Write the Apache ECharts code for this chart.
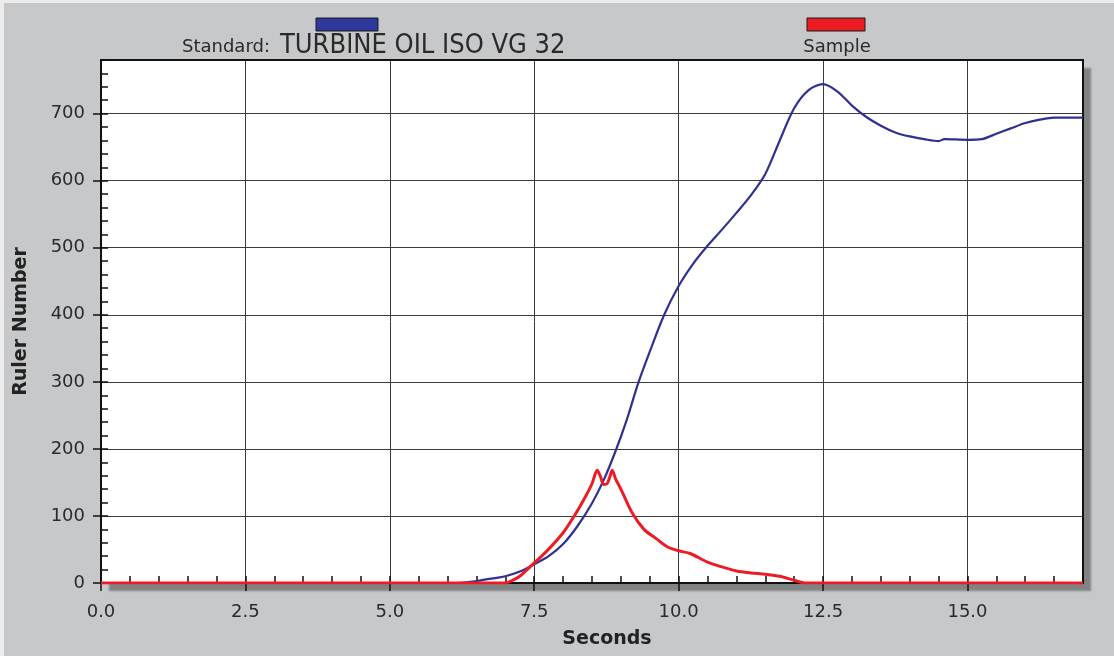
<!DOCTYPE html>
<html>
<head>
<meta charset="utf-8">
<script src="https://cdn.jsdelivr.net/npm/echarts@6/dist/echarts.min.js"></script>
<style>
html,body{margin:0;padding:0;background:#c7c8ca;}
#c{width:1114px;height:656px;}
</style>
</head>
<body>
<div id="c"></div>
<script>
// Data (seconds, ruler number)
var standardName = 'TURBINE OIL ISO VG 32';
var sampleName = 'Sample';
var standardX = [0, 6.2, 6.5, 6.8, 7.0, 7.25, 7.5, 7.75, 8.0, 8.25, 8.5, 8.7, 8.9, 9.1, 9.3, 9.5, 9.75, 10.0, 10.25, 10.5, 10.75, 11.0, 11.25, 11.5, 11.75, 12.0, 12.25, 12.5, 12.75, 13.0, 13.25, 13.5, 13.75, 14.0, 14.25, 14.5, 14.6, 15.0, 15.25, 15.5, 15.75, 16.0, 16.25, 16.5, 17.0];
var standardY = [0, 0, 3, 7, 10, 17, 28, 40, 58, 85, 119, 153, 195, 243, 298, 345, 400, 443, 476, 503, 527, 552, 578, 610, 660, 708, 735, 744, 733, 712, 695, 682, 672, 666, 662, 659, 662, 661, 662, 670, 678, 686, 691, 694, 694];
var sampleX = [0, 7.0, 7.1, 7.25, 7.5, 7.7, 8.0, 8.2, 8.4, 8.5, 8.59, 8.65, 8.7, 8.76, 8.8, 8.85, 8.91, 9.0, 9.2, 9.4, 9.6, 9.8, 10.0, 10.2, 10.5, 10.75, 11.0, 11.25, 11.5, 11.75, 12.0, 12.2, 17.0];
var sampleY = [0, 0, 3, 10, 30, 46, 75, 101, 131, 148, 168, 158, 147, 148, 156, 168, 155, 140, 104, 80, 67, 54, 48, 44, 31, 24, 18, 15, 13, 10, 4, 0, 0];
var xTicks = [0, 2.5, 5.0, 7.5, 10.0, 12.5, 15.0];
var yTicks = [0, 100, 200, 300, 400, 500, 600, 700];

function pairs(xs, ys) { return xs.map(function (x, i) { return [x, ys[i]]; }); }

var chart = echarts.init(document.getElementById('c'), null, {renderer: 'canvas'});
var FONT = 'DejaVu Sans';
var frameLine = {show: true, onZero: false, lineStyle: {color: '#111', width: 2}};
chart.setOption({
  backgroundColor: '#c7c8ca',
  animation: false,
  grid: {
    left: 101, right: 31, top: 60, bottom: 73,
    show: true, backgroundColor: '#ffffff', borderWidth: 0,
    shadowColor: 'rgba(0,0,0,0.35)', shadowBlur: 2, shadowOffsetX: 8, shadowOffsetY: 8
  },
  graphic: [
    {type: 'rect', shape: {x: 0, y: 0, width: 1114, height: 3}, style: {fill: '#ececec'}},
    {type: 'rect', shape: {x: 0, y: 0, width: 4, height: 656}, style: {fill: '#ececec'}},
    {type: 'rect', shape: {x: 316, y: 18, width: 62, height: 13}, style: {fill: '#2f389c', stroke: '#1a1a1a', lineWidth: 1}},
    {type: 'text', x: 182, y: 47, style: {text: 'Standard:', font: '18px "DejaVu Sans"', fill: '#2a2a2a', verticalAlign: 'middle', align: 'left'}},
    {type: 'text', x: 280, y: 46, style: {text: standardName, font: '27px "DejaVu Sans Condensed", "DejaVu Sans"', fill: '#2a2a2a', verticalAlign: 'middle', align: 'left'}},
    {type: 'rect', shape: {x: 807, y: 18, width: 58, height: 13}, style: {fill: '#ec1c24', stroke: '#1a1a1a', lineWidth: 1}},
    {type: 'text', x: 837, y: 47, style: {text: sampleName, font: '18px "DejaVu Sans"', fill: '#2a2a2a', verticalAlign: 'middle', align: 'center'}}
  ],
  xAxis: [
    {
      type: 'value', min: 0, max: 17, interval: 2.5, position: 'bottom',
      name: 'Seconds', nameLocation: 'middle', nameGap: 47,
      nameTextStyle: {fontFamily: FONT, fontWeight: 'bold', fontSize: 19, color: '#222', padding: [0, 0, 0, 30]},
      axisLine: frameLine,
      axisTick: {show: true, inside: false, length: 8, customValues: xTicks, lineStyle: {color: '#111', width: 1.5}},
      axisLabel: {show: true, margin: 20, customValues: xTicks, fontFamily: FONT, fontSize: 18, color: '#2a2a2a',
        formatter: function (v) { return v.toFixed(1); }},
      splitLine: {show: true, lineStyle: {color: '#3a3a3a', width: 1}}
    },
    {
      type: 'value', min: 0, max: 17, interval: 0.5, position: 'bottom',
      axisLine: {show: false}, axisLabel: {show: false}, splitLine: {show: false},
      axisTick: {show: true, inside: true, length: 7, lineStyle: {color: '#111', width: 1.5}}
    },
    {
      type: 'value', min: 0, max: 17, position: 'top',
      axisLine: frameLine, axisLabel: {show: false}, axisTick: {show: false}, splitLine: {show: false}
    }
  ],
  yAxis: [
    {
      type: 'value', min: 0, max: 780, interval: 100, position: 'left',
      name: 'Ruler Number', nameLocation: 'middle', nameGap: 70,
      nameTextStyle: {fontFamily: FONT, fontWeight: 'bold', fontSize: 19, color: '#222'},
      axisLine: frameLine,
      axisTick: {show: true, inside: false, length: 8, customValues: yTicks, lineStyle: {color: '#111', width: 1.5}},
      axisLabel: {show: true, margin: 16, customValues: yTicks, fontFamily: FONT, fontSize: 18, color: '#2a2a2a'},
      splitLine: {show: true, lineStyle: {color: '#3a3a3a', width: 1}}
    },
    {
      type: 'value', min: 0, max: 780, interval: 20, position: 'left',
      axisLine: {show: false}, axisLabel: {show: false}, splitLine: {show: false},
      axisTick: {show: true, inside: true, length: 7, lineStyle: {color: '#111', width: 1.5}}
    },
    {
      type: 'value', min: 0, max: 780, position: 'right',
      axisLine: frameLine, axisLabel: {show: false}, axisTick: {show: false}, splitLine: {show: false}
    }
  ],
  series: [
    {
      name: standardName, type: 'line', xAxisIndex: 0, yAxisIndex: 0,
      data: pairs(standardX, standardY), smooth: 0.3, showSymbol: false,
      lineStyle: {color: '#2e3192', width: 2.2}, z: 3
    },
    {
      name: sampleName, type: 'line', xAxisIndex: 0, yAxisIndex: 0,
      data: pairs(sampleX, sampleY), smooth: 0.3, showSymbol: false,
      lineStyle: {color: '#ec1c24', width: 3}, z: 4
    }
  ]
});
</script>
</body>
</html>
